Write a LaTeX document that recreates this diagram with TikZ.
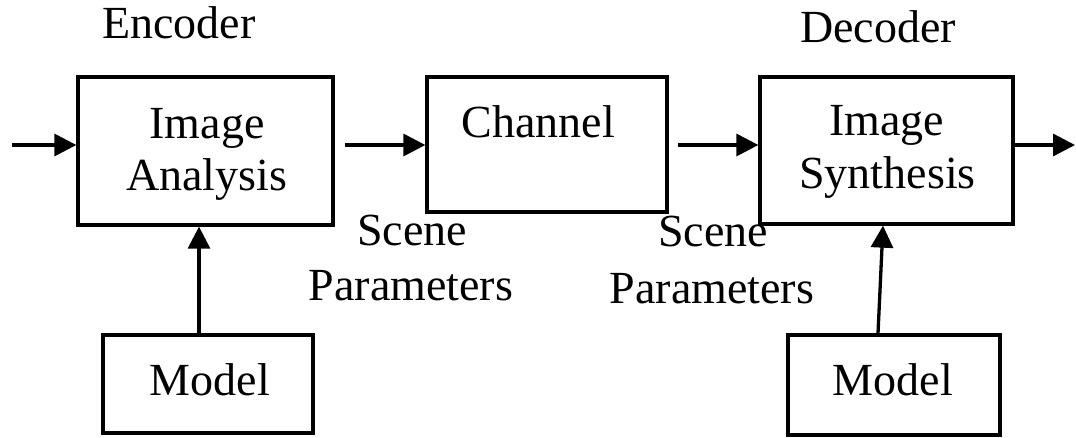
\documentclass[tikz,border=0pt]{standalone}
\usepackage{fontspec}
\setmainfont{Liberation Serif}
\usetikzlibrary{arrows.meta}
\begin{document}
\begin{tikzpicture}[x=1pt,y=-1pt,
  blk/.style={draw=black, line width=3.3pt, inner sep=0pt, rectangle},
  txt/.style={anchor=base, inner sep=0pt, font=\fontsize{46}{52}\selectfont},
  arr/.style={line width=3.3pt, -{Triangle[length=22pt,width=22pt]}}]
\useasboundingbox (0,0) rectangle (1076,437);
% boxes
\node[blk, minimum width=255pt, minimum height=148pt] (ia) at (205.5,151) {};
\node[blk, minimum width=240pt, minimum height=135pt] (ch) at (547,144.5) {};
\node[blk, minimum width=253pt, minimum height=147pt] (is) at (886.5,150.5) {};
\node[blk, minimum width=210pt, minimum height=98pt] (ml) at (208,384) {};
\node[blk, minimum width=212pt, minimum height=100pt] (mr) at (894,385) {};
% texts
\node[txt] (enc) at (179,38) {Encoder};
\node[txt] (dec) at (878,42) {Decoder};
\node[txt] (ia1) at (207,138) {Image};
\node[txt] (ia2) at (206.5,190) {Analysis};
\node[txt] (ch1) at (538.5,137) {Channel};
\node[txt] (is1) at (886.5,135) {Image};
\node[txt] (is2) at (887.5,188) {Synthesis};
\node[txt] (sp1) at (412,245) {Scene};
\node[txt] (sp2) at (411,300) {Parameters};
\node[txt] (sq1) at (713,246) {Scene};
\node[txt] (sq2) at (712,303) {Parameters};
\node[txt] (ml1) at (210,395) {Model};
\node[txt] (mr1) at (893,395) {Model};
% connector ends
\coordinate (in) at (12,145);
\coordinate (a1) at (345,145);
\coordinate (a2) at (678,145);
\coordinate (a3) at (1013,145);
\coordinate (out) at (1075,145);
% connectors
\draw[arr] (in) -- (in -| ia.west);
\draw[arr] (a1) -- (a1 -| ch.west);
\draw[arr] (a2) -- (a2 -| is.west);
\draw[arr] (a3 -| is.east) -- (out);
\draw[arr] ([xshift=-9pt]ml.north) -- ([xshift=-9pt]ml.north |- ia.south);
\draw[arr] ([xshift=-16pt]mr.north) -- ([xshift=-3.5pt]is.south);
\end{tikzpicture}
\end{document}
